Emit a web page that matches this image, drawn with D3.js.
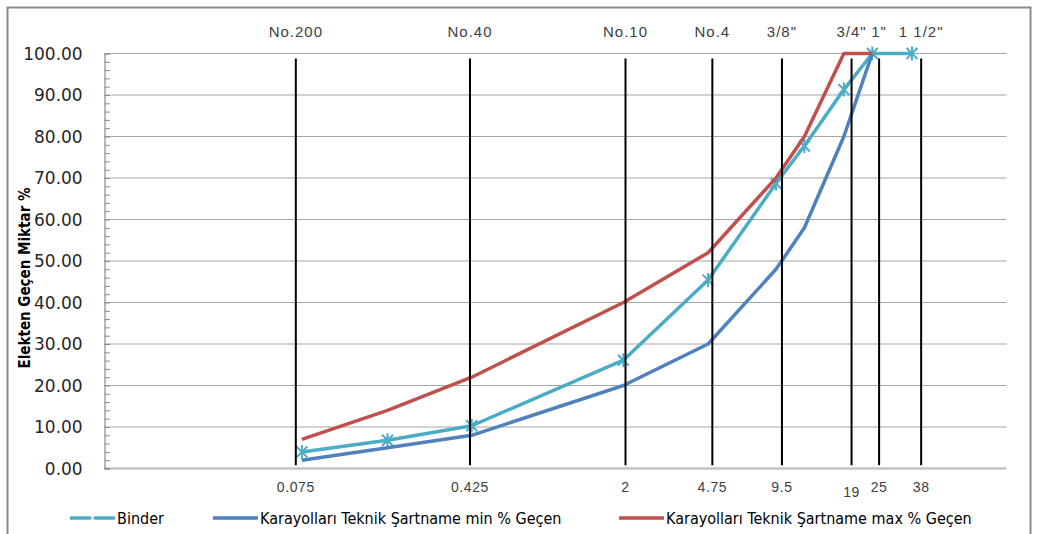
<!DOCTYPE html>
<html>
<head>
<meta charset="utf-8">
<script src="https://cdn.jsdelivr.net/npm/d3@7"></script>
<style>
  body { margin: 0; background: #fff; }
  svg { display: block; }
</style>
</head>
<body>
<svg id="chart" width="1038" height="534"></svg>
<script>
// Sieve openings (mm) and percent passing
const binderSieves = [0.075, 0.18, 0.425, 2, 4.75, 9.5, 12.7, 19, 25.4, 38.1];
const binderPassing = [4.0, 6.8, 10.3, 26.1, 45.4, 68.7, 77.7, 91.3, 100, 100];

const specSieves = [0.075, 0.18, 0.425, 2, 4.75, 9.5, 12.7, 19, 25.4];
const specMin = [2, 5, 8, 20, 30, 48, 58, 80, 100];
const specMax = [7, 14, 22, 40, 52, 70, 80, 100, 100];

// Reference sieve lines with their names and sizes
const guideSizes = [0.075, 0.425, 2, 4.75, 9.5, 19, 25, 38];
const guideNames = ["No.200", "No.40", "No.10", "No.4", "3/8\"", "3/4\"", "1\"", "1 1/2\""];
const guideSizeLabels = ["0.075", "0.425", "2", "4.75", "9.5", "19", "25", "38"];

const yTicks = [0, 10, 20, 30, 40, 50, 60, 70, 80, 90, 100];

const seriesNames = [
  "Binder",
  "Karayolları Teknik Şartname min % Geçen",
  "Karayolları Teknik Şartname max % Geçen"
];
const seriesColors = ["#4BACC6", "#4F81BD", "#C0504D"];

const svg = d3.select("#chart");

const plot = { left: 104.5, right: 1006.5, top: 53.5, bottom: 468.5 };

const x = d3.scaleLog().domain([0.01, 100]).range([plot.left, plot.right]);
// the sieve marker lines are laid on a slightly wider log scale of their own
const xGuide = d3.scaleLog().domain([0.01, 100]).range([93.5, 1018.3]);
const y = d3.scaleLinear().domain([0, 100]).range([plot.bottom, plot.top]);

// outer chart frame
svg.append("path")
  .attr("d", "M7.5,540 L7.5,7.5 L1030.5,7.5 L1030.5,540")
  .attr("fill", "none")
  .attr("stroke", "#8a8a8a")
  .attr("stroke-width", 2);

// horizontal gridlines
svg.append("g")
  .selectAll("line")
  .data(yTicks.filter(d => d > 0))
  .join("line")
  .attr("x1", plot.left).attr("x2", plot.right)
  .attr("y1", d => y(d)).attr("y2", d => y(d))
  .attr("stroke", "#a6a6a6")
  .attr("stroke-width", 1.2);

// baseline
svg.append("line")
  .attr("x1", plot.left).attr("x2", plot.right)
  .attr("y1", y(0)).attr("y2", y(0))
  .attr("stroke", "#c4c4c4")
  .attr("stroke-width", 2.5);

// y axis line with inside minor ticks
const yAxis = d3.axisRight(y)
  .tickValues(d3.range(0, 101, 2))
  .tickSize(5.5)
  .tickFormat("");
const yAxisG = svg.append("g")
  .attr("transform", `translate(${plot.left},0)`)
  .call(yAxis);
yAxisG.select(".domain").attr("stroke", "#8c8c8c").attr("stroke-width", 1.2);
yAxisG.selectAll(".tick line").attr("stroke", "#8c8c8c").attr("stroke-width", 1);

// y tick labels
svg.append("g")
  .selectAll("text")
  .data(yTicks)
  .join("text")
  .attr("x", 82.7)
  .attr("y", d => y(d))
  .attr("dy", "0.36em")
  .attr("text-anchor", "end")
  .attr("font-family", "'DejaVu Sans', Verdana, sans-serif")
  .attr("font-size", 17)
  .attr("fill", "#262626")
  .text(d => d3.format(".2f")(d));

// y axis title
svg.append("text")
  .attr("transform", "translate(30,278) rotate(-90)")
  .attr("text-anchor", "middle")
  .attr("font-family", "'DejaVu Sans Condensed', 'DejaVu Sans', sans-serif")
  .attr("font-stretch", "condensed")
  .attr("font-weight", "bold")
  .attr("font-size", 15)
  .attr("fill", "#000")
  .text("Elekten Geçen Miktar %");

// data series
const line = d3.line().x(d => x(d[0])).y(d => y(d[1]));
const series = [
  { pts: d3.zip(binderSieves, binderPassing), color: seriesColors[0], marker: true },
  { pts: d3.zip(specSieves, specMin), color: seriesColors[1], marker: false },
  { pts: d3.zip(specSieves, specMax), color: seriesColors[2], marker: false }
];

const starPath = r => {
  const d = r * 0.78;
  return `M0,${-r}L0,${r}M${-d},${-d}L${d},${d}M${-d},${d}L${d},${-d}`;
};

series.forEach(s => {
  const g = svg.append("g");
  g.append("path")
    .attr("d", line(s.pts))
    .attr("fill", "none")
    .attr("stroke", s.color)
    .attr("stroke-width", 3.5)
    .attr("stroke-linejoin", "round");
  if (s.marker) {
    g.selectAll("path.mk")
      .data(s.pts)
      .join("path")
      .attr("class", "mk")
      .attr("transform", d => `translate(${x(d[0])},${y(d[1])})`)
      .attr("d", starPath(7))
      .attr("fill", "none")
      .attr("stroke", s.color)
      .attr("stroke-width", 2);
  }
});

// sieve marker lines
svg.append("g")
  .selectAll("line")
  .data(guideSizes)
  .join("line")
  .attr("x1", d => xGuide(d)).attr("x2", d => xGuide(d))
  .attr("y1", y(98.8)).attr("y2", y(0.8))
  .attr("stroke", "#000")
  .attr("stroke-width", 2);

// sieve names above
svg.append("g")
  .selectAll("text")
  .data(guideSizes)
  .join("text")
  .attr("x", d => xGuide(d))
  .attr("y", 37)
  .attr("text-anchor", "middle")
  .attr("font-family", "'Liberation Sans', Arial, sans-serif")
  .attr("font-size", 15)
  .attr("letter-spacing", 1)
  .attr("fill", "#404040")
  .text((d, i) => guideNames[i]);

// sieve sizes below
svg.append("g")
  .selectAll("text")
  .data(guideSizes)
  .join("text")
  .attr("x", d => xGuide(d))
  .attr("y", (d, i) => guideSizeLabels[i] === "19" ? 497 : 492)
  .attr("text-anchor", "middle")
  .attr("font-family", "'Liberation Sans', Arial, sans-serif")
  .attr("font-size", 14)
  .attr("letter-spacing", 0.6)
  .attr("fill", "#404040")
  .text((d, i) => guideSizeLabels[i]);

// legend
const legendX = [70, 213, 619];
const legendY = 518;
const lg = svg.append("g");
seriesNames.forEach((name, i) => {
  const g = lg.append("g").attr("transform", `translate(${legendX[i]},${legendY})`);
  g.append("line")
    .attr("x1", 0).attr("x2", 45)
    .attr("stroke", seriesColors[i])
    .attr("stroke-width", 3.5);
  if (i === 0) {
    g.append("path")
      .attr("transform", "translate(22.5,0)")
      .attr("d", starPath(4.5))
      .attr("stroke", "#ffffff")
      .attr("stroke-width", 1)
      .attr("fill", "none");
  }
  g.append("text")
    .attr("x", 47)
    .attr("dy", "0.35em")
    .attr("font-family", "'DejaVu Sans Condensed', 'DejaVu Sans', sans-serif")
    .attr("font-stretch", "condensed")
    .attr("font-size", 16)
    .attr("fill", "#000")
    .text(name);
});
</script>
</body>
</html>
